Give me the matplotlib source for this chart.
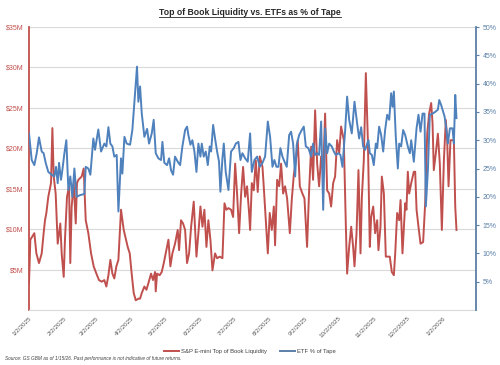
import pandas as pd
import matplotlib
matplotlib.use('Agg')
import matplotlib.pyplot as plt
from matplotlib.lines import Line2D

plt.rcParams['font.family'] = ['Liberation Sans', 'DejaVu Sans']

start = pd.Timestamp('2025-01-02')

# S&P E-mini top of book liquidity ($M), x = days since 1/2/2025
liq_days = [0, 1.2, 2.9, 4.7, 6.5, 8.8, 11.2, 12.9, 14.1, 15.3, 17, 19.4, 20.6, 21.8, 23.5,
            25.3, 26.5, 27.6, 28.8, 30.6, 31.7, 33.5, 35.3, 36.4, 37.6, 39.4, 41.2, 42.3, 43.5, 46.4,
            48.2, 50, 52.3, 54.7, 57, 59.4, 61.7, 64.1, 66.4, 68.2, 70, 71.7, 73.5, 75.2, 77,
            78.8, 81.1, 83.5, 85.2, 87, 88.8, 90.5, 92.3, 94.1, 96.4, 97.9,
            99.4, 101.7, 103.5, 105.2, 107.6, 109.3, 111.1, 111.7, 112.9, 115.2, 117, 118.8, 120.5, 122.9, 124.6,
            126.4, 128.7, 131.1, 132.3, 134, 135.8, 137.6, 139.3, 141.1, 142.9, 145.2, 147.6, 149.3, 151.1, 152.9,
            154.6, 156.4, 158.1, 159.9, 161.7, 164, 165.8, 168.1, 170.5, 172.3, 174, 175.8, 178.1, 179.9, 181.7,
            183.4, 185.2, 187, 188.7, 190.5, 192.2, 194, 194.9,
            196.4, 198.1, 199.9, 201.6, 203.4, 205.8, 206.9, 208.7, 210.5, 212.2, 214, 215.8, 216.9, 218.7, 220.5,
            222.2, 224, 225.7, 227.5, 229.9, 231.6, 233.4, 235.2, 236.9, 238.7, 241, 242.8, 245.1, 246.9, 248.7,
            250.4, 252.2, 254, 255.7, 257.5, 259.3, 261, 262.8, 264.6, 266.3, 268.1, 269.8, 271.6, 273.4, 275.1,
            277.5, 279.3, 280.4, 282.2, 284, 285.7, 286.9, 288.7, 290.4,
            292.2, 293.4, 295.1, 296.9, 298.7, 300.4, 301.6, 303.4, 305.1, 306.9, 308, 309.8, 311, 312.8, 314.5,
            316.3, 318, 319.8, 321.6, 322.8, 324.5, 326.3, 327.5, 329.2, 331.6, 332.7, 333.9, 335.1, 336.9, 339.2,
            340.4, 341.6, 343.3, 345.1, 347.4, 349.2, 351, 352.7, 354.5, 355.7, 356.8, 358.6, 360.4, 362.1, 363.9,
            365.7, 367.4, 368.6, 369.8, 371.5, 373.3, 374.5, 375.7, 376.8]
liq_vals = [3.3, 8.7, 9.1, 9.5, 7, 5.8, 7, 9.5, 11.1, 12, 14, 15.7, 22.5, 16.5, 14.4,
            8.2, 9.5, 10.7, 7, 4.1, 8.7, 14, 15.3, 5.8, 12.8, 15.7, 10.7, 15.7, 16.1, 16.5,
            17.5, 11.1, 9.5, 7, 5.4, 4.5, 3.7, 3.5, 3.7, 2.9, 4.3, 6.2, 4.5, 3.9, 5.4,
            6.2, 12.4, 9.9, 8.9, 7.8, 7, 4.5, 2.1, 1.2, 1.4, 1.4,
            2.1, 2.9, 2.5, 3.3, 4.5, 3.7, 4.7, 2.3, 4.5, 4.3, 4.7, 5.8, 7, 8.7, 5.4,
            7, 8.2, 9.9, 7.4, 11.1, 10.7, 9.9, 5.8, 7, 10.3, 13.4, 6.6, 9.5, 12.8, 10.3,
            12.4, 7.8, 11.1, 8.7, 4.9, 7, 6.4, 6.6, 6.4, 13.2, 12.4, 12.6, 12.4, 11.5, 18.1,
            14.4, 9.5, 14.4, 17.7, 14, 15.3, 12, 9.9,
            15.7, 14.8, 18.5, 14.6, 19, 17.7, 15.3, 11.1, 7, 12, 9.9, 12.8, 8, 16.1, 15.3,
            18.1, 14.4, 15.3, 13.8, 9.5, 13.6, 16.7, 18.5, 21, 15.3, 14.4, 13.8, 7.8, 14.8, 20.2,
            16.1, 24.7, 18.1, 15.3, 19, 16.9, 24.3, 14.8, 14.4, 12.8, 15.7, 16.5, 21, 19.4, 22.7,
            21, 10.3, 4.5, 7.8, 10.3, 7.8, 5.4, 9.5, 17.3,
            7, 14, 18.5, 29.3, 21, 7.8, 11.5, 12.8, 9.5, 11.1, 7.4, 10.3, 16.5, 14.4, 6.6,
            6.6, 6.6, 4.7, 4.3, 7, 12, 11.1, 13.6, 7, 13.2, 12.4, 17.1, 14.4, 15.7, 17.1,
            17.1, 12.4, 10.3, 8.2, 8.4, 13.2, 21.8, 24.3, 25.6, 23.1, 17.3, 19.4, 21.8, 18.1, 9.9,
            18.5, 23.5, 21, 15.3, 21, 21, 21, 12.8, 9.9]

# ETF % of tape, x = days since 1/2/2025
etf_days = [0, 2.4, 4.7, 6.8, 8.8, 11.2, 12.9, 14.7, 17, 20, 22.3, 23.8, 25.3, 26.5, 28.2,
            29.4, 31.2, 32.9, 34.7, 36.4, 38.2, 40, 42, 45, 48.8, 50, 52.3, 54.1, 56.7, 58.2,
            61.1, 63.5, 66.4, 68.2, 70, 71.7, 73.5, 75.2, 77.3, 78.8, 81.1, 82.3, 84.1, 86.1, 89.1,
            91.1, 93.5, 95.2, 96.4, 97.9,
            99.4, 101.7, 104.1, 105.8, 108.2, 109.9, 111.7, 114, 116.4, 117.6, 119.3, 121.7, 123.5, 125.2, 127,
            128.7, 131.1, 133.2, 135.2, 137.6, 139.3, 140.5, 142.3, 144, 145.8, 147.6, 149.3, 151.1, 152.3, 154,
            155.8, 157.6, 159.3, 160.5, 162.3, 164, 165.8, 167.5, 168.7, 170.5, 171.7, 173.4, 175.8, 178.1, 180.5,
            182.3, 184.6, 186.4, 188.1, 190.5, 192.8, 194.9,
            196.4, 198.7, 201.1, 203.4, 205.8, 208.1, 210.5, 212.5, 214.6, 216.3, 218.1, 219.9, 221.6, 223.4, 225.2,
            227.2, 229.3, 231, 232.8, 234.6, 236, 238.1, 240.4, 242.2, 244, 246.3, 248.7, 250.4, 252.2, 254,
            255.7, 257.5, 259.3, 261, 262.8, 264.6, 266.9, 268.7, 270.4, 272.8, 274.5, 276.3, 278.7, 280.4, 282.2,
            284.5, 286.9, 289.2, 291,
            292.8, 294.5, 296.3, 298.1, 299.2, 300.4, 302.2, 303.9, 305.7, 306.9, 308.6, 310.4, 312.2, 313.9, 315.7,
            317.5, 319.2, 320.4, 321.6, 323.3, 325.1, 326.3, 328, 329.8, 331.6, 333.9, 335.7, 336.9, 339.2, 341.6,
            343.3, 345.1, 346.9, 348.6, 349.8, 351.6, 353.3, 355.7, 358, 360.4, 361.6, 363.3, 364.5, 366.3, 368,
            369.2, 371, 373.3, 374.5, 375.7, 376.8]
etf_vals = [31.2, 26.5, 25.6, 27.7, 30.5, 28, 27.7, 26, 24.4, 23.9, 23.6, 25.3, 22.4, 26, 23,
            24.7, 27.7, 30, 21.2, 23.6, 20, 25, 20, 20.3, 20.5, 25.3, 25, 23.9, 30.3, 28.3,
            31.9, 28, 29.4, 28.9, 32.3, 29.4, 28.9, 27.1, 27.4, 17.4, 26.8, 24.1, 30.6, 29.4, 29.2,
            31.8, 38.3, 43, 36.8, 39.5,
            34.7, 30.6, 32, 29.4, 31.2, 33.6, 27.7, 26.8, 26.5, 29.7, 26, 25.6, 26.8, 24.7, 23.9,
            27.1, 26.2, 25.6, 28.9, 31.8, 32.4, 30.9, 29.2, 30, 28, 24.4, 29.4, 27.1, 29.4, 27.1,
            28, 25.6, 28.9, 28, 32.7, 30.3, 28, 26.2, 20.9, 26.8, 29.4, 24.4, 21.2, 28, 28.6,
            29.4, 29.7, 26.5, 27.7, 26.8, 26.2, 31.2,
            24.4, 26.5, 27.1, 25.3, 26, 27.1, 33.3, 30.6, 25.3, 26.5, 25.3, 25.3, 28.6, 27.1, 26.2,
            25.3, 30.9, 31.5, 29.4, 23.6, 29.2, 30.9, 31.8, 32.4, 28.9, 28.6, 27.1, 29.4, 27.4, 27.7,
            27.4, 33.3, 17.7, 32.1, 27.7, 29.4, 28.9, 28, 27.4, 27.7, 27.4, 25.3, 31.8, 37.7, 33.6,
            31.2, 36.8, 33, 30.3,
            32.3, 28.9, 28.3, 29.4, 30, 27.7, 27.4, 25.6, 29.4, 28.6, 32.4, 30.9, 28, 31.8, 34.5,
            33.6, 38.3, 35.9, 38.6, 30.6, 25, 29.4, 28.9, 31.8, 30.9, 28.9, 27.7, 30, 26.2, 32.1,
            34.5, 31.5, 34.7, 34.7, 18.3, 24.7, 34.5, 34.7, 35, 35.4, 37.1, 36.2, 35.4, 34.2, 31.8,
            29.4, 32.1, 32.1, 29.4, 38, 33.9]

liq_ticks = [5, 10, 15, 20, 25, 30, 35]
etf_ticks = [5, 10, 15, 20, 25, 30, 35, 40, 45, 50]
month_ticks = pd.date_range('2025-01-02', periods=13, freq=pd.DateOffset(months=1))

red = '#C0504D'
blue = '#4F81BD'
blue_axis = '#5A7FA6'

liq_dates = start + pd.to_timedelta(liq_days, unit='D')
etf_dates = start + pd.to_timedelta(etf_days, unit='D')

fig = plt.figure(figsize=(5, 3.65), dpi=100)
ax = fig.add_axes([0.058, 0.1507, 0.894, 0.7753])
ax2 = ax.twinx()

ax.plot(liq_dates, liq_vals, color=red, lw=1.4, zorder=3)
ax2.plot(etf_dates, etf_vals, color=blue, lw=1.4, zorder=3)

ax.set_xlim(start, start + pd.Timedelta(days=394))
ax.set_ylim(0, 35)
ax2.set_ylim(0, 50)

ax.set_yticks(liq_ticks)
ax.set_yticklabels(['$%dM' % v for v in liq_ticks])
ax2.set_yticks(etf_ticks)
ax2.set_yticklabels(['%d%%' % v for v in etf_ticks])
ax.set_xticks(month_ticks)
ax.set_xticklabels(['%d/%d/%d' % (d.month, d.day, d.year) for d in month_ticks],
                   rotation=45, ha='right', rotation_mode='anchor')

ax.yaxis.grid(True, color='#D9D9D9', lw=0.8)
ax.set_axisbelow(True)

for s in ['top', 'right']:
    ax.spines[s].set_visible(False)
for s in ['top', 'left', 'bottom']:
    ax2.spines[s].set_visible(False)
ax.spines['left'].set_color(red)
ax.spines['left'].set_linewidth(1.3)
ax.spines['bottom'].set_color('#D9D9D9')
ax.spines['bottom'].set_linewidth(0.8)
ax2.spines['right'].set_color(blue_axis)
ax2.spines['right'].set_linewidth(1.3)

ax.tick_params(axis='y', length=0, labelsize=5, labelcolor=red, pad=4)
ax.tick_params(axis='x', length=0, labelsize=4.5, labelcolor='#595959', pad=4)
ax2.tick_params(axis='y', length=2, width=0.8, color=blue_axis, labelsize=5,
                labelcolor=blue_axis, pad=3)

title = fig.text(0.5, 0.965, 'Top of Book Liquidity vs. ETFs as % of Tape',
                 ha='center', va='center', fontsize=6.2, fontweight='bold', color='#262626')
fig.canvas.draw()
bb = title.get_window_extent().transformed(fig.transFigure.inverted())
fig.add_artist(Line2D([bb.x0, bb.x1], [bb.y0 + 0.002, bb.y0 + 0.002], color='#262626',
                      lw=0.6, transform=fig.transFigure))

handles = [Line2D([], [], color=red, lw=1.4), Line2D([], [], color=blue_axis, lw=1.4)]
fig.legend(handles, ['S&P E-mini Top of Book Liquidity', 'ETF % of Tape'],
           loc='center', bbox_to_anchor=(0.5, 0.036), ncol=2, frameon=False,
           fontsize=4.2, handlelength=2.6, columnspacing=2.2, handletextpad=0.3,
           labelcolor='#404040')

fig.text(0.01, 0.017, 'Source: GS GBM as of 1/15/26. Past performance is not indicative of future returns.',
         ha='left', va='center', fontsize=3.4, style='italic', color='#404040')

fig.savefig('out.png', dpi=100)
